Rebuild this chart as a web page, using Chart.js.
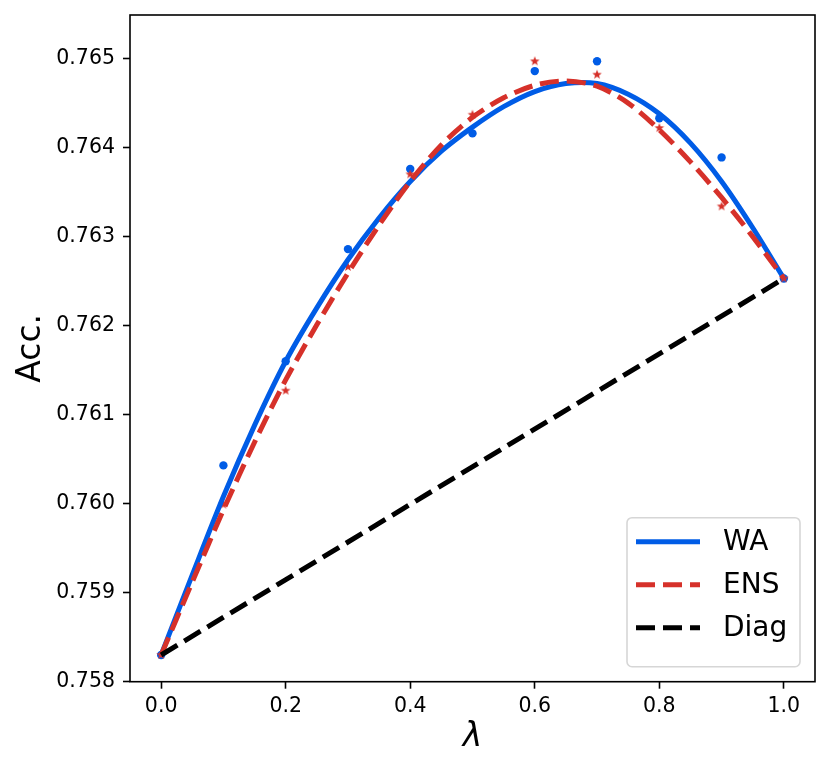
<!DOCTYPE html>
<html>
<head>
<meta charset="utf-8">
<script src="https://cdn.jsdelivr.net/npm/chart.js@4"></script>
<style>
  html, body { margin: 0; padding: 0; background: #fff; }
  #wrap { width: 830px; height: 773px; }
</style>
</head>
<body>
<div id="wrap"><canvas id="chart" width="830" height="773"></canvas></div>
<script>
// Measured points (lambda sweep)
const lambdas = [0.0, 0.1, 0.2, 0.3, 0.4, 0.5, 0.6, 0.7, 0.8, 0.9, 1.0];
const waAcc  = [0.7583, 0.76043, 0.7616, 0.76286, 0.76376, 0.76416, 0.76486, 0.76497, 0.76433, 0.76389, 0.76253];
const ensAcc = [0.7583, 0.75999, 0.76127, 0.76266, 0.7637, 0.76437, 0.76497, 0.76482, 0.76422, 0.76334, 0.76253];

// Fitted curves
const fitLambdas = [0.0, 0.05, 0.1, 0.15, 0.2, 0.25, 0.3, 0.35, 0.4, 0.45, 0.5,
                    0.55, 0.6, 0.65, 0.7, 0.75, 0.8, 0.85, 0.9, 0.95, 1.0];
const waFit  = [0.7583, 0.75920, 0.76008, 0.76088, 0.76160, 0.76220, 0.76274, 0.76321, 0.76362, 0.76396, 0.76423,
                0.76446, 0.76463, 0.76472, 0.76472, 0.76460, 0.76438, 0.76405, 0.76362, 0.76310, 0.76253];
const ensFit = [0.7583, 0.75912, 0.75993, 0.76069, 0.76139, 0.76201, 0.76259, 0.76313, 0.76362, 0.76403, 0.76434,
                0.76456, 0.76470, 0.76475, 0.76469, 0.76450, 0.76420, 0.76384, 0.76344, 0.76300, 0.76253];

// Diagonal between the two end points
const diagLambdas = [0.0, 1.0];
const diagAcc = [0.7583, 0.76253];

// Axis ticks
const xTickValues = [0.0, 0.2, 0.4, 0.6, 0.8, 1.0];
const yTickValues = [0.758, 0.759, 0.760, 0.761, 0.762, 0.763, 0.764, 0.765];

const legendOrder = ['WA', 'ENS', 'Diag'];

const BLUE = '#005ce6';
const RED = '#d6312a';
const BLACK = '#000000';
const FONT = "'DejaVu Sans', sans-serif";

function toPoints(xs, ys) {
    return xs.map((x, i) => ({ x: x, y: ys[i] }));
}

// filled five point star used as marker
function makeStar(color, r) {
    const c = document.createElement('canvas');
    const s = Math.ceil(r * 2 + 2);
    c.width = s;
    c.height = s;
    const g = c.getContext('2d');
    g.fillStyle = color;
    g.beginPath();
    for (let i = 0; i < 10; i++) {
        const rad = i % 2 === 0 ? r : r * 0.42;
        const a = -Math.PI / 2 + i * Math.PI / 5;
        g.lineTo(s / 2 + rad * Math.cos(a), s / 2 + rad * Math.sin(a));
    }
    g.closePath();
    g.fill();
    return c;
}

// box around the plot plus matplotlib-like legend
const framePlugin = {
    id: 'frame',
    afterDraw(chart) {
        const ctx = chart.ctx;
        const a = chart.chartArea;
        ctx.save();
        ctx.strokeStyle = BLACK;
        ctx.lineWidth = 1.6;
        ctx.strokeRect(a.left, a.top, a.right - a.left, a.bottom - a.top);

        // legend
        const items = legendOrder.map(name => chart.data.datasets.find(d => d.label === name));
        const boxW = 173, rowH = 43, pad = 12;
        const boxH = items.length * rowH + 2 * pad - 4;
        const bx = a.right - 15 - boxW;
        const by = a.bottom - 15 - boxH;
        ctx.beginPath();
        ctx.roundRect(bx, by, boxW, boxH, 5);
        ctx.fillStyle = 'rgba(255,255,255,0.8)';
        ctx.fill();
        ctx.strokeStyle = '#d6d6d6';
        ctx.lineWidth = 1.6;
        ctx.stroke();

        ctx.font = '28px ' + FONT;
        ctx.textBaseline = 'middle';
        ctx.textAlign = 'left';
        items.forEach((d, i) => {
            const y = by + pad + 12 + i * rowH;
            ctx.beginPath();
            ctx.setLineDash(d.borderDash || []);
            ctx.strokeStyle = d.borderColor;
            ctx.lineWidth = d.borderWidth;
            ctx.moveTo(bx + 9, y);
            ctx.lineTo(bx + 73, y);
            ctx.stroke();
            ctx.setLineDash([]);
            ctx.fillStyle = BLACK;
            ctx.fillText(d.label, bx + 96, y + 1);
        });
        ctx.restore();
    }
};

const ctx = document.getElementById('chart').getContext('2d');
new Chart(ctx, {
    type: 'scatter',
    data: {
        datasets: [
            {
                label: 'Diag',
                data: toPoints(diagLambdas, diagAcc),
                showLine: true,
                borderColor: BLACK,
                borderWidth: 5,
                borderDash: [19, 8],
                pointRadius: 0,
                order: 1
            },
            {
                label: 'ENS',
                data: toPoints(fitLambdas, ensFit),
                showLine: true,
                borderColor: RED,
                borderWidth: 5,
                borderDash: [19, 8],
                pointRadius: 0,
                tension: 0.3,
                order: 2
            },
            {
                label: 'WA',
                data: toPoints(fitLambdas, waFit),
                showLine: true,
                borderColor: BLUE,
                borderWidth: 5,
                pointRadius: 0,
                tension: 0.3,
                order: 3
            },
            {
                label: 'ENS points',
                data: toPoints(lambdas, ensAcc),
                pointStyle: makeStar(RED, 5),
                pointRadius: 5,
                order: 4
            },
            {
                label: 'WA points',
                data: toPoints(lambdas, waAcc),
                backgroundColor: BLUE,
                borderColor: BLUE,
                borderWidth: 0,
                pointRadius: 4.2,
                order: 5
            }
        ]
    },
    options: {
        responsive: false,
        animation: false,
        events: [],
        layout: { padding: { top: 15, right: 15, left: 0, bottom: 0 } },
        plugins: {
            legend: { display: false },
            tooltip: { enabled: false }
        },
        scales: {
            x: {
                type: 'linear',
                min: -0.05,
                max: 1.05,
                afterBuildTicks: scale => { scale.ticks = xTickValues.map(v => ({ value: v })); },
                afterFit: scale => {
                    scale.height = 91.3;
                    scale.paddingLeft = 0;
                    scale.paddingRight = 0;
                },
                border: { display: false },
                grid: {
                    drawOnChartArea: false,
                    tickLength: 7,
                    tickWidth: 1.6,
                    tickColor: BLACK
                },
                ticks: {
                    padding: 6,
                    color: BLACK,
                    font: { family: FONT, size: 20.5 },
                    maxRotation: 0,
                    callback: v => v.toFixed(1)
                },
                title: {
                    display: true,
                    text: 'λ',
                    color: BLACK,
                    font: { family: FONT, size: 33, style: 'italic' },
                    padding: { top: 0, bottom: 16 }
                }
            },
            y: {
                type: 'linear',
                min: 0.758,
                max: 0.76549,
                afterBuildTicks: scale => { scale.ticks = yTickValues.map(v => ({ value: v })); },
                afterFit: scale => {
                    scale.width = 130;
                    scale.paddingTop = 0;
                    scale.paddingBottom = 0;
                },
                border: { display: false },
                grid: {
                    drawOnChartArea: false,
                    tickLength: 7,
                    tickWidth: 1.6,
                    tickColor: BLACK
                },
                ticks: {
                    padding: 8,
                    color: BLACK,
                    font: { family: FONT, size: 20.5 },
                    callback: v => v.toFixed(3)
                },
                title: {
                    display: true,
                    text: 'Acc.',
                    color: BLACK,
                    font: { family: FONT, size: 33 },
                    padding: { top: 12, bottom: 0 }
                }
            }
        }
    },
    plugins: [framePlugin]
});
</script>
</body>
</html>
